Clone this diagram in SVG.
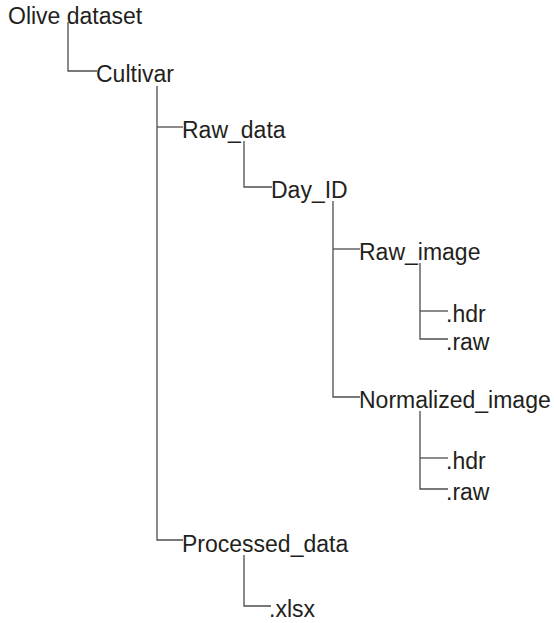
<svg xmlns="http://www.w3.org/2000/svg" width="554" height="623" viewBox="0 0 554 623">
<style>
.t{font-family:"Liberation Sans",Arial,sans-serif;font-size:23px;fill:#231f20}
.c{fill:none;stroke:#4d4d4d;stroke-width:1.3}
</style>
<rect width="554" height="623" fill="#ffffff"/>
<g id="connectors">
<polyline class="c" points="68,22 68,71 97,71"/>
<polyline class="c" points="157,86 157,540 183,540"/>
<line class="c" x1="157" y1="127" x2="183" y2="127"/>
<polyline class="c" points="244,141 244,187 272,187"/>
<polyline class="c" points="333,201 333,397 360,397"/>
<line class="c" x1="333" y1="249" x2="360" y2="249"/>
<polyline class="c" points="420,263 420,339 448,339"/>
<line class="c" x1="420" y1="311" x2="448" y2="311"/>
<polyline class="c" points="420,411 420,489 448,489"/>
<line class="c" x1="420" y1="458" x2="448" y2="458"/>
<polyline class="c" points="244,555 244,606 271,606"/>
</g>
<g id="n-olive"><text class="t" x="8" y="24">Olive dataset</text></g>
<g id="n-cultivar"><text class="t" x="96" y="82">Cultivar</text></g>
<g id="n-rawdata"><text class="t" x="182" y="138">Raw_data</text></g>
<g id="n-dayid"><text class="t" x="271" y="198">Day_ID</text></g>
<g id="n-rawimage"><text class="t" x="359" y="260">Raw_image</text></g>
<g id="n-rawimage-hdr"><text class="t" x="446" y="322">.hdr</text></g>
<g id="n-rawimage-raw"><text class="t" x="446" y="350">.raw</text></g>
<g id="n-normimage"><text class="t" x="359" y="408">Normalized_image</text></g>
<g id="n-normimage-hdr"><text class="t" x="446" y="469">.hdr</text></g>
<g id="n-normimage-raw"><text class="t" x="446" y="500">.raw</text></g>
<g id="n-processed"><text class="t" x="182" y="552">Processed_data</text></g>
<g id="n-xlsx"><text class="t" x="269" y="617">.xlsx</text></g>
</svg>
